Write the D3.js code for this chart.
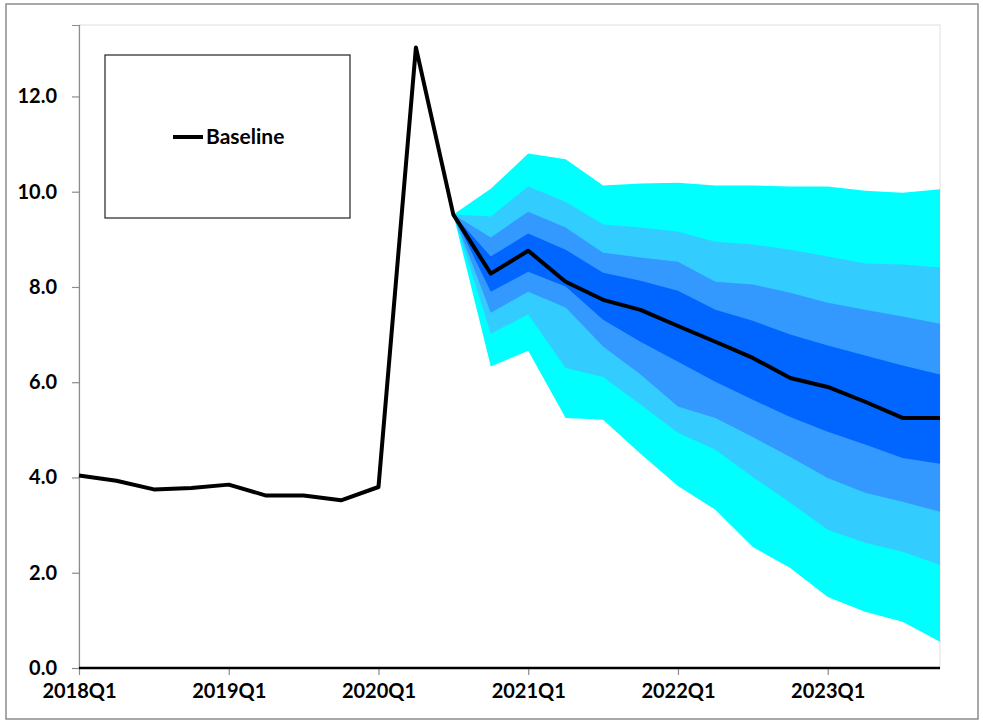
<!DOCTYPE html>
<html>
<head>
<meta charset="utf-8">
<script src="https://cdn.jsdelivr.net/npm/d3@7"></script>
<style>
  html, body { margin: 0; padding: 0; background: #ffffff; }
  svg { display: block; }
  text { font-family: Lato, "Open Sans", sans-serif; font-weight: bold; fill: #000; }
</style>
</head>
<body>
<svg id="chart" width="983" height="721"></svg>
<script>
// ---------- data ----------
const quarters = [
  "2018Q1","2018Q2","2018Q3","2018Q4",
  "2019Q1","2019Q2","2019Q3","2019Q4",
  "2020Q1","2020Q2","2020Q3","2020Q4",
  "2021Q1","2021Q2","2021Q3","2021Q4",
  "2022Q1","2022Q2","2022Q3","2022Q4",
  "2023Q1","2023Q2","2023Q3","2023Q4"
];
const xTickLabels = ["2018Q1","2019Q1","2020Q1","2021Q1","2022Q1","2023Q1"];
const yTickValues = [0, 2, 4, 6, 8, 10, 12];

const baseline = [4.04, 3.93, 3.75, 3.78, 3.85, 3.62, 3.62, 3.52, 3.80, 13.03,
                  9.52, 8.28, 8.76, 8.11, 7.73, 7.52, 7.18, 6.85, 6.51, 6.09,
                  5.90, 5.59, 5.25, 5.25];

// fan starts at 2020Q3
const fanStart = "2020Q3";
const outerUpper = [9.52, 10.06, 10.80, 10.68, 10.13, 10.17, 10.19, 10.13, 10.13, 10.11, 10.11, 10.02, 9.98, 10.05];
const band2Upper = [9.52, 9.48, 10.11, 9.79, 9.31, 9.25, 9.16, 8.95, 8.89, 8.78, 8.64, 8.49, 8.47, 8.41];
const band3Upper = [9.52, 9.04, 9.58, 9.25, 8.72, 8.62, 8.53, 8.11, 8.05, 7.88, 7.67, 7.52, 7.38, 7.23];
const band4Upper = [9.52, 8.64, 9.12, 8.78, 8.30, 8.13, 7.92, 7.52, 7.29, 7.00, 6.77, 6.56, 6.35, 6.16];
const band4Lower = [9.52, 7.90, 8.32, 8.01, 7.31, 6.85, 6.43, 6.01, 5.63, 5.27, 4.96, 4.69, 4.41, 4.29];
const band3Lower = [9.52, 7.46, 7.90, 7.57, 6.75, 6.16, 5.49, 5.25, 4.85, 4.43, 3.99, 3.68, 3.49, 3.28];
const band2Lower = [9.52, 7.02, 7.42, 6.30, 6.11, 5.53, 4.94, 4.58, 4.01, 3.47, 2.90, 2.63, 2.44, 2.16];
const outerLower = [9.52, 6.33, 6.66, 5.25, 5.21, 4.50, 3.82, 3.32, 2.54, 2.10, 1.49, 1.18, 0.97, 0.55];

const bandColors = ["#00FFFF", "#33CCFF", "#3399FF", "#0066FF"];
const legendLabel = "Baseline";

// ---------- chart ----------
const svg = d3.select("#chart");
const plot = { left: 79, right: 940, top: 25, bottom: 668 };

const x = d3.scaleLinear().domain([0, quarters.length - 1]).range([plot.left, plot.right]);
const y = d3.scaleLinear().domain([0, 13.5]).range([plot.bottom, plot.top]);

// outer border
svg.append("rect")
  .attr("x", 6).attr("y", 4).attr("width", 972).attr("height", 715)
  .attr("fill", "#fff").attr("stroke", "#8c8c8c").attr("stroke-width", 1.5);

// plot area border (faint)
svg.append("rect")
  .attr("x", plot.left).attr("y", plot.top)
  .attr("width", plot.right - plot.left).attr("height", plot.bottom - plot.top)
  .attr("fill", "none").attr("stroke", "#e0e0e0").attr("stroke-width", 1);

// fan bands
const i0 = quarters.indexOf(fanStart);
const bands = [
  [outerUpper, outerLower],
  [band2Upper, band2Lower],
  [band3Upper, band3Lower],
  [band4Upper, band4Lower]
];
const area = d3.area()
  .x(d => x(d.i))
  .y0(d => y(d.lo))
  .y1(d => y(d.hi));
bands.forEach((b, k) => {
  const pts = b[0].map((v, j) => ({ i: i0 + j, hi: v, lo: b[1][j] }));
  svg.append("path").attr("d", area(pts)).attr("fill", bandColors[k]).attr("stroke", "none");
});

// y axis
const yAxis = d3.axisLeft(y).tickValues(yTickValues).tickFormat(d3.format(".1f")).tickSize(7);
const gy = svg.append("g").attr("transform", `translate(${plot.left},0)`).call(yAxis);
gy.select(".domain").attr("stroke", "#8c8c8c").attr("stroke-width", 1.2);
gy.selectAll(".tick line").attr("stroke", "#8c8c8c").attr("stroke-width", 1.2);
gy.selectAll(".tick text").style("font-size", "20px").style("font-family", "Lato, 'Open Sans', sans-serif")
  .style("font-weight", "bold").attr("fill", "#000").attr("x", -22);

// x axis
const xAxis = d3.axisBottom(x)
  .tickValues(xTickLabels.map(l => quarters.indexOf(l)))
  .tickFormat(i => quarters[i]).tickSize(7).tickPadding(9);
const gx = svg.append("g").attr("transform", `translate(0,${plot.bottom})`).call(xAxis);
gx.select(".domain").remove();
gx.selectAll(".tick line").attr("stroke", "#8c8c8c").attr("stroke-width", 1.2);
gx.selectAll(".tick text").style("font-size", "20px").style("font-family", "Lato, 'Open Sans', sans-serif")
  .style("font-weight", "bold").attr("fill", "#000");
svg.append("line")
  .attr("x1", plot.left).attr("x2", plot.right)
  .attr("y1", y(0)).attr("y2", y(0))
  .attr("stroke", "#000").attr("stroke-width", 2.5);

// baseline line
const line = d3.line().x((d, i) => x(i)).y(d => y(d));
svg.append("path").datum(baseline).attr("d", line)
  .attr("fill", "none").attr("stroke", "#000").attr("stroke-width", 4)
  .attr("stroke-linejoin", "round");

// legend
const lg = svg.append("g");
lg.append("rect").attr("x", 105).attr("y", 55).attr("width", 245).attr("height", 163)
  .attr("fill", "#fff").attr("stroke", "#222").attr("stroke-width", 1.2);
lg.append("line").attr("x1", 173).attr("x2", 203).attr("y1", 137).attr("y2", 137)
  .attr("stroke", "#000").attr("stroke-width", 4);
lg.append("text").attr("x", 206).attr("y", 144).style("font-size", "21px").text(legendLabel);
</script>
</body>
</html>
